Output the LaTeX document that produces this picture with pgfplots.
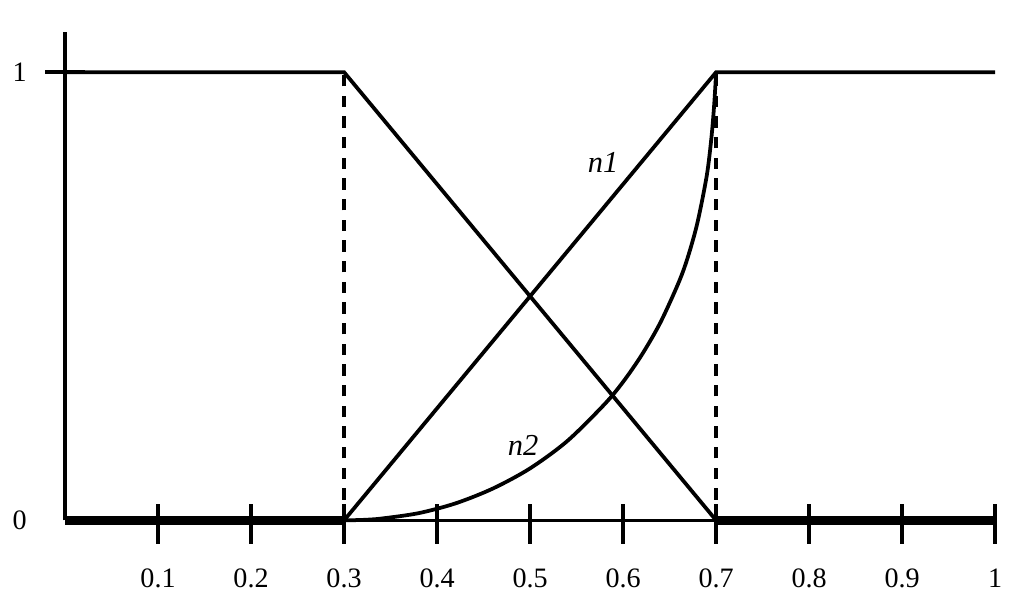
\documentclass[border=0pt]{standalone}
\usepackage{fontspec}
\setmainfont{Liberation Serif}
\usepackage{pgfplots}
\pgfplotsset{compat=1.18}

\begin{document}
\begin{tikzpicture}
\begin{axis}[
  scale only axis,
  width=13.95cm,height=7.32cm,
  xmin=0,xmax=1,ymin=0,ymax=1.089,
  axis lines=left,
  axis line style={-,line width=1.5pt},
  clip=false,
  tick align=center,
  major tick length=0.6cm,
  every tick/.style={line width=1.5pt,black},
  x tick style={yshift=-0.05cm},
  xtick={0.1,0.2,0.3,0.4,0.5,0.6,0.7,0.8,0.9,1},
  xticklabels={0.1,0.2,0.3,0.4,0.5,0.6,0.7,0.8,0.9,1},
  ytick={1},yticklabels={1},
  extra y ticks={0},extra y tick labels={0},
  extra y tick style={tick style={draw=none}},
  every tick label/.append style={font=\fontsize{12}{14}\selectfont},
  xticklabel style={yshift=-0.3cm},
  yticklabel style={xshift=-0.15cm},
]
% bounding box of the original image
\path (axis cs:-0.0699,-0.176) rectangle (axis cs:1.031,1.161);
% thick segments on the axis
\addplot[black,line width=3.6pt] coordinates {(0,0)(0.3,0)};
\addplot[black,line width=3.6pt] coordinates {(0.7,0)(1,0)};
% dashed verticals
\addplot[black,line width=1.8pt,dash pattern=on 0.17cm off 0.14cm] coordinates {(0.3,0)(0.3,1)};
\addplot[black,line width=1.8pt,dash pattern=on 0.17cm off 0.14cm] coordinates {(0.7,0)(0.7,1)};
% decreasing membership
\addplot[black,line width=1.6pt] coordinates {(0,1)(0.3,1)(0.7,0)};
% n1
\addplot[black,line width=1.6pt] coordinates {(0.3,0)(0.7,1)(1,1)};
% n2
\addplot[black,line width=1.6pt,smooth] coordinates {
  (0.3,0)(0.32,0.001)(0.34,0.004)(0.38,0.016)(0.42,0.038)(0.46,0.071)
  (0.5,0.116)(0.54,0.177)(0.58,0.259)(0.6,0.309)(0.62,0.369)(0.64,0.441)
  (0.66,0.532)(0.67,0.59)(0.68,0.665)(0.69,0.77)(0.695,0.855)(0.698,0.93)(0.7,1)};
\node[font=\fontsize{13}{15}\selectfont\itshape] at (axis cs:0.5785,0.799) {n1};
\node[font=\fontsize{13}{15}\selectfont\itshape] at (axis cs:0.4925,0.167) {n2};
\end{axis}
\end{tikzpicture}
\end{document}
